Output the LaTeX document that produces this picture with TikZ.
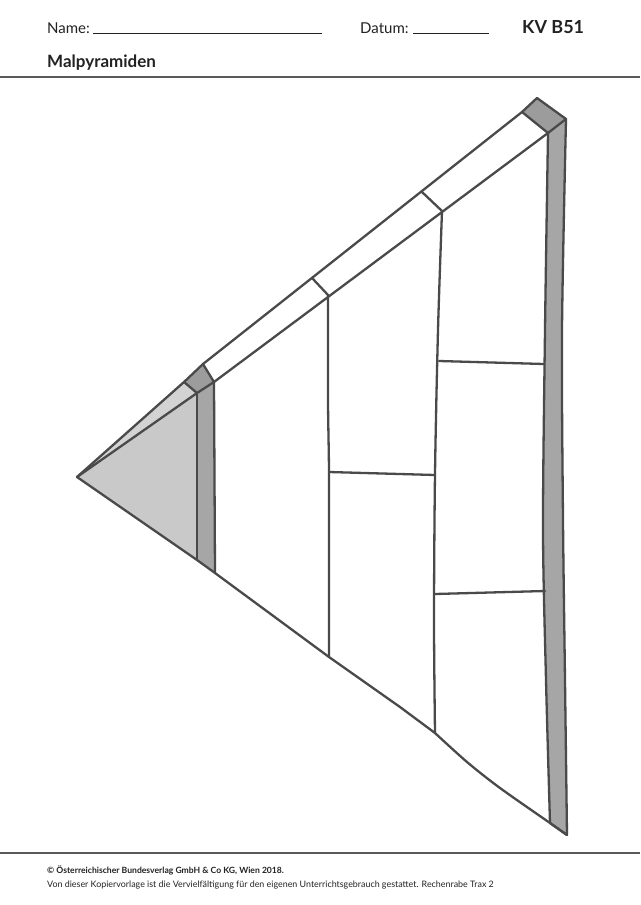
\documentclass[tikz,border=0pt]{standalone}
\usepackage{fontspec}
\setmainfont{Lato}
\definecolor{edge}{HTML}{4A4A4A}
\definecolor{lightfill}{HTML}{C9C9C9}
\definecolor{stripfill}{HTML}{D3D3D3}
\definecolor{barfill}{HTML}{A6A6A6}
\definecolor{capfill}{HTML}{9C9C9C}
\definecolor{rulecol}{HTML}{5A5A5A}
\definecolor{textcol}{HTML}{222222}
\tikzset{
  outline/.style={draw=edge, line width=2.3pt, line join=round, line cap=round},
  headtext/.style={anchor=base west, inner sep=0pt, text=textcol},
  fillline/.style={draw=textcol, line width=0.9pt},
  pagerule/.style={draw=rulecol, line width=1.4pt}
}
\begin{document}
\begin{tikzpicture}[x=1pt,y=-1pt]
\useasboundingbox (0,0) rectangle (640,905);
% ---------- header ----------
\node[headtext, font=\fontsize{15}{15}\selectfont] (name) at (47,33) {Name:};
\coordinate (n1) at (93,33.5); \coordinate (n2) at (322,33.5);
\draw[fillline] (n1) -- (n2);
\node[headtext, font=\fontsize{15}{15}\selectfont] (datum) at (360,33) {Datum:};
\coordinate (d1) at (413,33.5); \coordinate (d2) at (489,33.5);
\draw[fillline] (d1) -- (d2);
\node[headtext, font=\bfseries\fontsize{18}{18}\selectfont] (kv) at (522,33) {KV B51};
\node[headtext, font=\bfseries\fontsize{17}{17}\selectfont] (title) at (47,67) {Malpyramiden};
\coordinate (h1) at (0,77); \coordinate (h2) at (640,77);
\draw[pagerule] (h1) -- (h2);
% ---------- footer ----------
\coordinate (f1) at (0,853); \coordinate (f2) at (640,853);
\draw[pagerule] (f1) -- (f2);
\node[headtext, font=\bfseries\fontsize{8.6}{9}\selectfont] (copy) at (47,873) {© Österreichischer Bundesverlag GmbH \& Co KG, Wien 2018.};
\node[headtext, font=\fontsize{8.9}{9}\selectfont] (note) at (47,887) {Von dieser Kopiervorlage ist die Vervielfältigung für den eigenen Unterrichtsgebrauch gestattet. Rechenrabe Trax 2};
% ---------- pyramid coordinates ----------
\coordinate (T) at (77,477);
\coordinate (P1) at (184,382);
\coordinate (P2) at (203,364);
\coordinate (P3) at (214,382);
\coordinate (Q1) at (197,393);
\coordinate (B1) at (197,560);
\coordinate (B2) at (215,573);
\coordinate (R1) at (522,112);
\coordinate (R2) at (537,98);
\coordinate (R3) at (566,119);
\coordinate (R4) at (548,133);
\coordinate (S1) at (550,823);
\coordinate (S2) at (567,835);
\coordinate (D1o) at (313,279);
\coordinate (D1i) at (328,295);
\coordinate (D2o) at (422,192);
\coordinate (D2i) at (442,211);
\coordinate (C1b) at (329,657);
\coordinate (C2b) at (435,733);
% ---------- fills ----------
\fill[stripfill] (T) -- (P1) -- (Q1) -- cycle;
\fill[lightfill] (T) -- (Q1) -- (B1) -- cycle;
\fill[capfill] (P1) -- (P2) -- (P3) -- (Q1) -- cycle;
\fill[barfill] (Q1) -- (P3) -- (B2) -- (B1) -- cycle;
\fill[capfill] (R1) -- (R2) -- (R3) -- (R4) -- cycle;
\fill[barfill] plot[smooth, tension=0.5] coordinates {(548,133) (545,330) (543,530) (546,680) (550,823)}
  -- (S2) -- plot[smooth, tension=0.5] coordinates {(567,835) (565,680) (563,520) (562,330) (566,119)} -- cycle;
% ---------- outlines ----------
\draw[outline] (T) -- (P1);
\draw[outline] (T) -- (Q1);
\draw[outline] (P1) -- (P2) -- (P3) -- (Q1) -- cycle;
\draw[outline] (Q1) -- (B1);
\draw[outline] (P3) -- (B2);
\draw[outline] (P2) -- (R1);
\draw[outline] (P3) -- (R4);
\draw[outline] (R1) -- (R2) -- (R3) -- (R4) -- cycle;
\draw[outline] plot[smooth, tension=0.5] coordinates {(548,133) (545,330) (543,530) (546,680) (550,823)};
\draw[outline] plot[smooth, tension=0.5] coordinates {(566,119) (562,330) (563,520) (565,680) (567,835)};
\draw[outline] (T) -- (B1) -- (B2) -- (C1b) -- (400,707) -- (C2b);
\draw[outline] plot[smooth, tension=0.5] coordinates {(435,733) (467,762) (500,788) (550,823) (567,835)};
\draw[outline] (S1) -- (S2);
\draw[outline] (D1o) -- (D1i);
\draw[outline] (D2o) -- (D2i);
\draw[outline] plot[smooth, tension=0.5] coordinates {(328,295) (328,400) (329,472) (329,560) (329,657)};
\draw[outline] plot[smooth, tension=0.5] coordinates {(442,211) (438,330) (435,474) (434,620) (435,733)};
\coordinate (H1a) at (329,472); \coordinate (H1b) at (435,475);
\coordinate (H2a) at (439,361); \coordinate (H2b) at (544,364);
\coordinate (H3a) at (435,594); \coordinate (H3b) at (545,591);
\draw[outline] (H1a) -- (H1b);
\draw[outline] (H2a) -- (H2b);
\draw[outline] (H3a) -- (H3b);
\end{tikzpicture}
\end{document}
